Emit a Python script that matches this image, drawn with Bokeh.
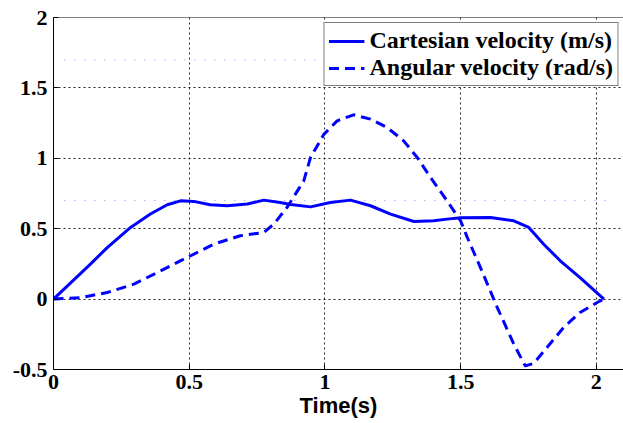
from bokeh.plotting import figure
from bokeh.models import Range1d, FixedTicker, Span, Legend, LegendItem
from bokeh.embed import file_html
from bokeh.resources import INLINE

# ---- data ----
cart_t = [0, 0.136, 0.198, 0.284, 0.357, 0.419, 0.468, 0.517, 0.577, 0.64, 0.714, 0.775, 0.835,
          0.874, 0.947, 1.02, 1.094, 1.168, 1.242, 1.328, 1.401, 1.45, 1.5, 1.61, 1.696, 1.751,
          1.806, 1.867, 1.94, 2.028]
cart_v = [0, 0.249, 0.366, 0.509, 0.604, 0.67, 0.698, 0.694, 0.67, 0.663, 0.675, 0.703, 0.686,
          0.672, 0.655, 0.686, 0.703, 0.663, 0.604, 0.551, 0.556, 0.568, 0.577, 0.58, 0.556, 0.509,
          0.39, 0.272, 0.153, 0.0]

ang_t = [0, 0.1, 0.198, 0.296, 0.394, 0.492, 0.59, 0.688, 0.775, 0.812, 0.86, 0.922, 0.947,
         0.996, 1.045, 1.106, 1.168, 1.229, 1.29, 1.34, 1.389, 1.45, 1.5, 1.524, 1.573, 1.635,
         1.696, 1.738, 1.769, 1.818, 1.88, 1.94, 2.003, 2.028]
ang_v = [0, 0.01, 0.047, 0.106, 0.2, 0.295, 0.39, 0.45, 0.473, 0.533, 0.65, 0.84, 1.006,
         1.17, 1.266, 1.309, 1.278, 1.219, 1.124, 1.006, 0.864, 0.698, 0.556, 0.44, 0.224, -0.06,
         -0.32, -0.474, -0.457, -0.344, -0.2, -0.095, -0.024, 0.0]

# faint dotted reference lines seen in the picture
ref_levels = [1.7, 0.7]
ref_x_start = [0.04, 0.04]
ref_x_end = [0.97, 2.05]

x_ticks = [0, 0.5, 1, 1.5, 2]
x_tick_labels = ["0", "0.5", "1", "1.5", "2"]
y_ticks = [-0.5, 0, 0.5, 1, 1.5, 2]
y_tick_labels = ["-0.5", "0", "0.5", "1", "1.5", "2"]

series_names = ["Cartesian velocity (m/s)", "Angular velocity (rad/s)"]
x_label = "Time(s)"

# ---- figure ----
p = figure(width=623, height=423, output_backend="svg", toolbar_location=None,
           x_range=Range1d(0, 2.1), y_range=Range1d(-0.5, 2))
p.min_border_left = 53
p.min_border_top = 17
p.min_border_bottom = 54
p.min_border_right = 0
p.outline_line_color = None
p.background_fill_color = "white"
p.border_fill_color = "white"

serif = "Liberation Serif"
for ax in (p.xaxis[0], p.yaxis[0]):
    ax.axis_line_color = "black"
    ax.axis_line_width = 1
    ax.major_tick_in = 5
    ax.major_tick_out = 0
    ax.minor_tick_line_color = None
    ax.major_tick_line_color = "black"
    ax.major_label_text_font = serif
    ax.major_label_text_font_style = "bold"
    ax.major_label_text_font_size = "22px"
    ax.major_label_text_color = "black"

p.xaxis.ticker = FixedTicker(ticks=x_ticks)
p.xaxis.major_label_overrides = {t: l for t, l in zip(x_ticks, x_tick_labels)}
p.yaxis.ticker = FixedTicker(ticks=y_ticks)
p.yaxis.major_label_overrides = {t: l for t, l in zip(y_ticks, y_tick_labels)}
p.xaxis.major_label_standoff = 5
p.yaxis.major_label_standoff = 6

p.xaxis.axis_label = x_label
p.xaxis.axis_label_text_font = "Liberation Sans"
p.xaxis.axis_label_text_font_style = "bold"
p.xaxis.axis_label_text_font_size = "22px"
p.xaxis.axis_label_standoff = 1
p.xaxis.axis_label_text_color = "black"

for g in (p.xgrid[0], p.ygrid[0]):
    g.grid_line_color = "black"
    g.grid_line_dash = "2 3"
    g.grid_line_alpha = 0.85
    g.grid_line_width = 1

# top border
p.add_layout(Span(location=2, dimension="width", line_color="black", line_width=1))

# faint dotted reference lines
for lv, xs, xe in zip(ref_levels, ref_x_start, ref_x_end):
    p.line([xs, xe], [lv, lv], line_color="#6a6aff", line_dash="1 9", line_width=1, line_alpha=0.8)

r1 = p.line(cart_t, cart_v, line_color="#0000ff", line_width=3, line_join="round")
r2 = p.line(ang_t, ang_v, line_color="#0000ff", line_width=3, line_dash="10 6", line_join="round")

legend = Legend(items=[LegendItem(label=series_names[0], renderers=[r1]),
                       LegendItem(label=series_names[1], renderers=[r2])],
                location="top_right")
legend.label_text_font = serif
legend.label_text_font_style = "bold"
legend.label_text_font_size = "24px"
legend.label_text_color = "black"
legend.border_line_color = "black"
legend.border_line_width = 1
legend.background_fill_color = "white"
legend.background_fill_alpha = 1
legend.glyph_width = 36
legend.glyph_height = 22
legend.label_height = 22
legend.label_standoff = 5
legend.spacing = 0
legend.padding = 4
legend.margin = 5
p.add_layout(legend)

open("out.html", "w").write(file_html(p, INLINE))
